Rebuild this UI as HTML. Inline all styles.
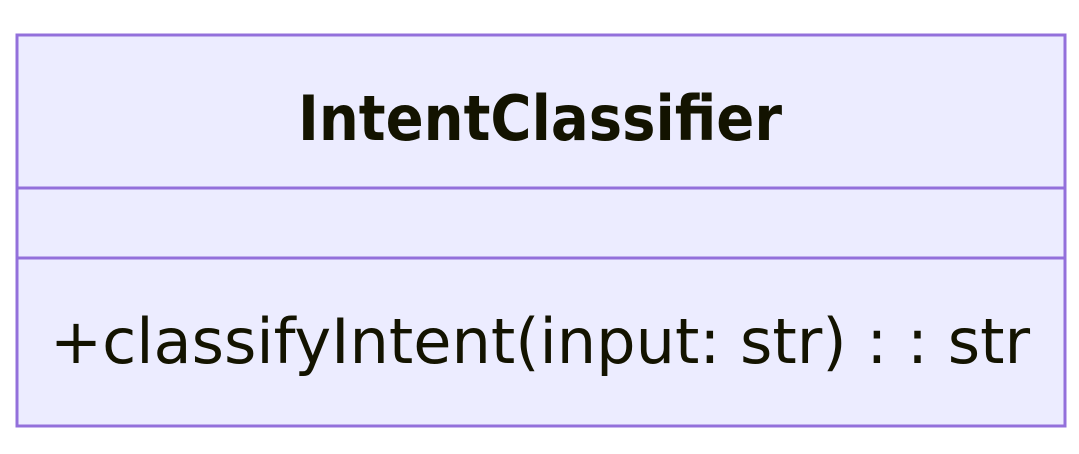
<!DOCTYPE html>
<html><head><meta charset="utf-8"><style>
html,body{margin:0;padding:0;background:#fff;width:1079px;height:454px;overflow:hidden}
</style></head><body>
<svg width="1079" height="454" xmlns="http://www.w3.org/2000/svg">
<rect x="17" y="35" width="1048" height="391" fill="#ECECFF" stroke="#9370DB" stroke-width="3"/>
<line x1="17" y1="188" x2="1065" y2="188" stroke="#9370DB" stroke-width="3"/>
<line x1="17" y1="258" x2="1065" y2="258" stroke="#9370DB" stroke-width="3"/>
<text x="298" y="140" font-family="DejaVu Sans, sans-serif" font-weight="bold" font-size="62" fill="#131300" textLength="484" lengthAdjust="spacingAndGlyphs">IntentClassifier</text>
<text x="50" y="363" font-family="DejaVu Sans, sans-serif" font-size="62" fill="#131300" textLength="980" lengthAdjust="spacingAndGlyphs">+classifyIntent(input: str) : : str</text>
</svg>
</body></html>
